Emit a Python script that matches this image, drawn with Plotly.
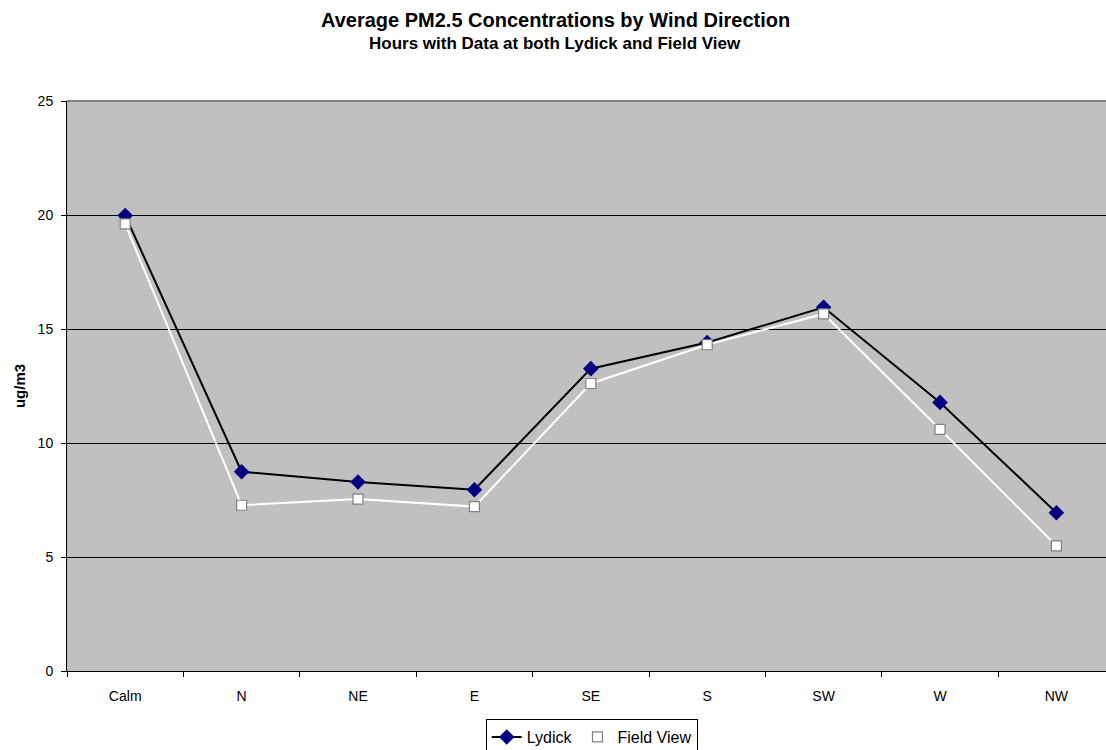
import plotly.graph_objects as go

categories = ["Calm", "N", "NE", "E", "SE", "S", "SW", "W", "NW"]
lydick = [19.98, 8.74, 8.29, 7.95, 13.26, 14.41, 15.95, 11.78, 6.94]
field_view = [19.61, 7.27, 7.54, 7.21, 12.61, 14.31, 15.66, 10.60, 5.49]
y_ticks = [0, 5, 10, 15, 20, 25]

FONT = "Arial, Liberation Sans, sans-serif"

fig = go.Figure()
fig.add_trace(go.Scatter(
    x=categories, y=lydick, name="Lydick", mode="lines+markers",
    line=dict(color="black", width=2),
    marker=dict(symbol="diamond", size=12, color="#000080", line=dict(width=0)),
))
fig.add_trace(go.Scatter(
    x=categories, y=field_view, name="Field View", mode="lines+markers",
    line=dict(color="white", width=2),
    marker=dict(symbol="square", size=10, color="white", line=dict(color="#808080", width=1.2)),
))

fig.update_layout(
    width=1106, height=750,
    margin=dict(l=67, r=0, t=101, b=79, autoexpand=False),
    paper_bgcolor="white", plot_bgcolor="#c0c0c0",
    font=dict(family=FONT, size=14, color="black"),
    showlegend=True,
    legend=dict(orientation="h", xref="container", yref="container",
                x=0.535, xanchor="center", y=0.0413, yanchor="top",
                bordercolor="black", borderwidth=1, bgcolor="white",
                font=dict(size=16), itemwidth=30, tracegroupgap=0),
    xaxis=dict(type="category", range=[-0.5, 8.426], showgrid=False,
               showline=True, linecolor="black", linewidth=1,
               ticks="outside", ticklen=5, tickcolor="black", tickson="boundaries",
               ticklabelstandoff=12, automargin=False,
               tickfont=dict(size=14), fixedrange=True),
    yaxis=dict(range=[0, 25], tickvals=y_ticks, showgrid=True, gridcolor="black", gridwidth=1,
               zeroline=False, showline=True, linecolor="black", linewidth=1,
               ticks="outside", ticklen=5, tickcolor="black", tickfont=dict(size=14),
               ticklabelstandoff=5, automargin=False,
               title=dict(text="<b>ug/m3</b>", font=dict(size=15), standoff=8)),
    shapes=[dict(type="line", xref="paper", yref="paper", x0=0, x1=1, y0=1, y1=1,
                 line=dict(color="#808080", width=2), layer="above")],
    annotations=[
        dict(text="<b>Average PM2.5 Concentrations by Wind Direction</b>", xref="paper", yref="paper",
             x=0.4697, y=1.0, yshift=81, xanchor="center", yanchor="middle", showarrow=False,
             font=dict(size=20, family=FONT)),
        dict(text="<b>Hours with Data at both Lydick and Field View</b>", xref="paper", yref="paper",
             x=0.4697, y=1.0, yshift=58, xanchor="center", yanchor="middle", showarrow=False,
             font=dict(size=17, family=FONT)),
    ],
)

fig.write_html("out.html", config={"displayModeBar": False},
               post_script="document.body.style.margin='0';document.body.style.overflow='hidden';")
